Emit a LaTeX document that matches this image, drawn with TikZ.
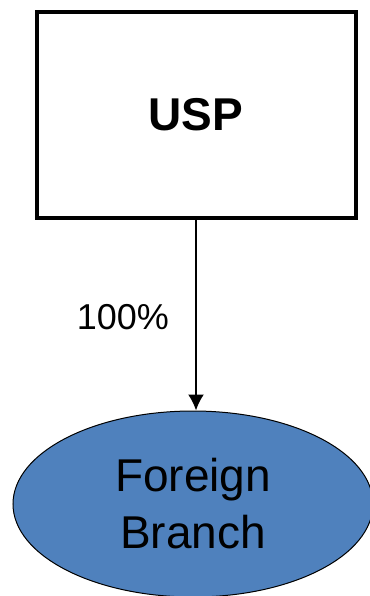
\documentclass[tikz,border=0pt]{standalone}
\usepackage{fontspec}
\setmainfont{Liberation Sans}
\usetikzlibrary{shapes.geometric,arrows.meta}
\definecolor{branchblue}{HTML}{4F81BD}
\tikzset{every node/.style={align=center},
    owner/.style={draw, line width=4pt, minimum width=319pt, minimum height=206pt, font=\fontsize{46}{50}\selectfont\bfseries},
    branch/.style={ellipse, draw, fill=branchblue, line width=1pt, minimum width=360pt, minimum height=186pt, inner sep=0pt, font=\fontsize{46}{57}\selectfont}}

\begin{document}
\begin{tikzpicture}[x=1pt, y=-1pt]
    \useasboundingbox (0,0) rectangle (369,596);
    \node[owner] (usp) at (196,115) {USP};
    \node[branch] (fb) [below of = usp, node distance=389pt, xshift=-3pt] {Foreign\\Branch};
    \draw[-{Latex[length=16pt,width=16pt]}, line width=2pt] (usp.south) -- node [left, font=\fontsize{36}{40}\selectfont, inner sep=0pt, xshift=-26pt, yshift=-2pt] {100\%} (usp.south |- fb.north);
\end{tikzpicture}
\end{document}
